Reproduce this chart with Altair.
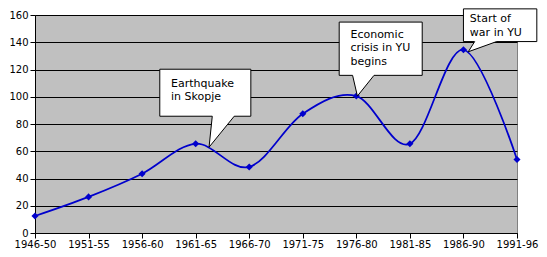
import altair as alt
import pandas as pd

# ---- main series ----
categories = ["1946-50", "1951-55", "1956-60", "1961-65", "1966-70",
              "1971-75", "1976-80", "1981-85", "1986-90", "1991-96"]
values = [12.5, 26.5, 43.5, 65.5, 48.5, 87.5, 100.5, 65.5, 134.5, 54]
y_ticks = [0, 20, 40, 60, 80, 100, 120, 140, 160]

# ---- callouts (data coordinates: x = category index, y = value) ----
callout_names = ["quake", "crisis", "war"]
callout_text = ["Earthquake\nin Skopje", "Economic\ncrisis in YU\nbegins", "Start of\nwar in YU"]
box_left = [2.33, 5.68, 8.00]
box_right = [4.03, 7.23, 9.37]
box_bottom = [85.7, 115.7, 140.5]
box_top = [120.2, 154.8, 164.5]
text_x = [2.54, 5.89, 8.12]
text_y = [107.5, 143.3, 154.6]
base_left = [3.31, 5.93, 8.21]
base_right = [3.72, 6.33, 8.62]
tip_x = [3.25, 6.02, 8.09]
tip_y = [63, 100.5, 133]

idx = list(range(len(categories)))
main_df = pd.DataFrame({"i": idx, "v": values, "cat": categories})

box_df = pd.DataFrame({"name": callout_names, "x0": box_left, "x1": box_right,
                       "y0": box_bottom, "y1": box_top})
text_df = pd.DataFrame({"name": callout_names, "tx": text_x, "ty": text_y, "label": callout_text})

area_rows = []
edge_rows = []
for n, bl, br, by, tx, ty in zip(callout_names, base_left, base_right, box_bottom, tip_x, tip_y):
    area_rows.append({"name": n, "ay": by + 1.2, "ax": bl, "ax2": br})
    area_rows.append({"name": n, "ay": by, "ax": bl, "ax2": br})
    area_rows.append({"name": n, "ay": ty, "ax": tx, "ax2": tx})
    edge_rows.append({"name": n, "ex": bl, "ey": by, "ex2": tx, "ey2": ty})
    edge_rows.append({"name": n + "_r", "ex": br, "ey": by, "ex2": tx, "ey2": ty})
area_df = pd.DataFrame(area_rows)
edge_df = pd.DataFrame(edge_rows)

xs = alt.Scale(domain=[0, 9], nice=False, zero=False)
ys = alt.Scale(domain=[0, 160], nice=False, zero=False)

label_arr = "[" + ",".join("'" + c + "'" for c in categories) + "]"

x_axis = alt.Axis(values=idx, grid=False, labelExpr=label_arr + "[datum.value]",
                  domainColor="black", tickColor="black", tickSize=5, labelPadding=1,
                  labelFont="DejaVu Sans", labelFontSize=10, labelColor="black",
                  labelAngle=0, labelOverlap=False, labelBound=False, labelFlush=False,
                  title=None)
y_axis = alt.Axis(values=y_ticks, grid=True, gridColor="black", gridWidth=1, gridOpacity=1,
                  domainColor="black", tickColor="black", tickSize=5, labelPadding=2,
                  labelFont="DejaVu Sans", labelFontSize=10, labelColor="black",
                  title=None)

BLUE = "#0000CC"

line = alt.Chart(main_df).mark_line(interpolate="cardinal", tension=0, color=BLUE,
                                    strokeWidth=1.75).encode(
    x=alt.X("i:Q", scale=xs, axis=x_axis),
    y=alt.Y("v:Q", scale=ys, axis=y_axis),
)
points = alt.Chart(main_df).mark_point(shape="diamond", filled=True, size=50,
                                       color=BLUE, opacity=1).encode(
    x=alt.X("i:Q", scale=xs, axis=x_axis),
    y=alt.Y("v:Q", scale=ys, axis=y_axis),
)

boxes = alt.Chart(box_df).mark_rect(fill="white", stroke="black", strokeWidth=1).encode(
    x=alt.X("x0:Q", scale=xs, axis=x_axis),
    x2="x1:Q",
    y=alt.Y("y0:Q", scale=ys, axis=y_axis),
    y2="y1:Q",
)
pointers = alt.Chart(area_df).mark_area(orient="horizontal", color="white", opacity=1).encode(
    y=alt.Y("ay:Q", scale=ys, axis=y_axis),
    x=alt.X("ax:Q", scale=xs, axis=x_axis),
    x2="ax2:Q",
    detail="name:N",
)
edges = alt.Chart(edge_df).mark_rule(color="black", strokeWidth=1).encode(
    x=alt.X("ex:Q", scale=xs, axis=x_axis),
    x2="ex2:Q",
    y=alt.Y("ey:Q", scale=ys, axis=y_axis),
    y2="ey2:Q",
)
texts = alt.Chart(text_df).mark_text(align="left", baseline="alphabetic", lineBreak="\n",
                                     lineHeight=13.5, font="DejaVu Sans", fontSize=11,
                                     color="black").encode(
    x=alt.X("tx:Q", scale=xs, axis=x_axis),
    y=alt.Y("ty:Q", scale=ys, axis=y_axis),
    text="label:N",
)

chart = alt.layer(line, points, boxes, pointers, edges, texts).properties(
    width=482,
    height=218,
    padding={"left": 27, "top": 7, "right": 22, "bottom": 16},
    autosize=alt.AutoSizeParams(type="none"),
    background="white",
).configure_view(
    fill="#C0C0C0",
    stroke="#808080",
    strokeWidth=1,
)

chart.save("out.html", embed_options={"renderer": "svg", "actions": False})
